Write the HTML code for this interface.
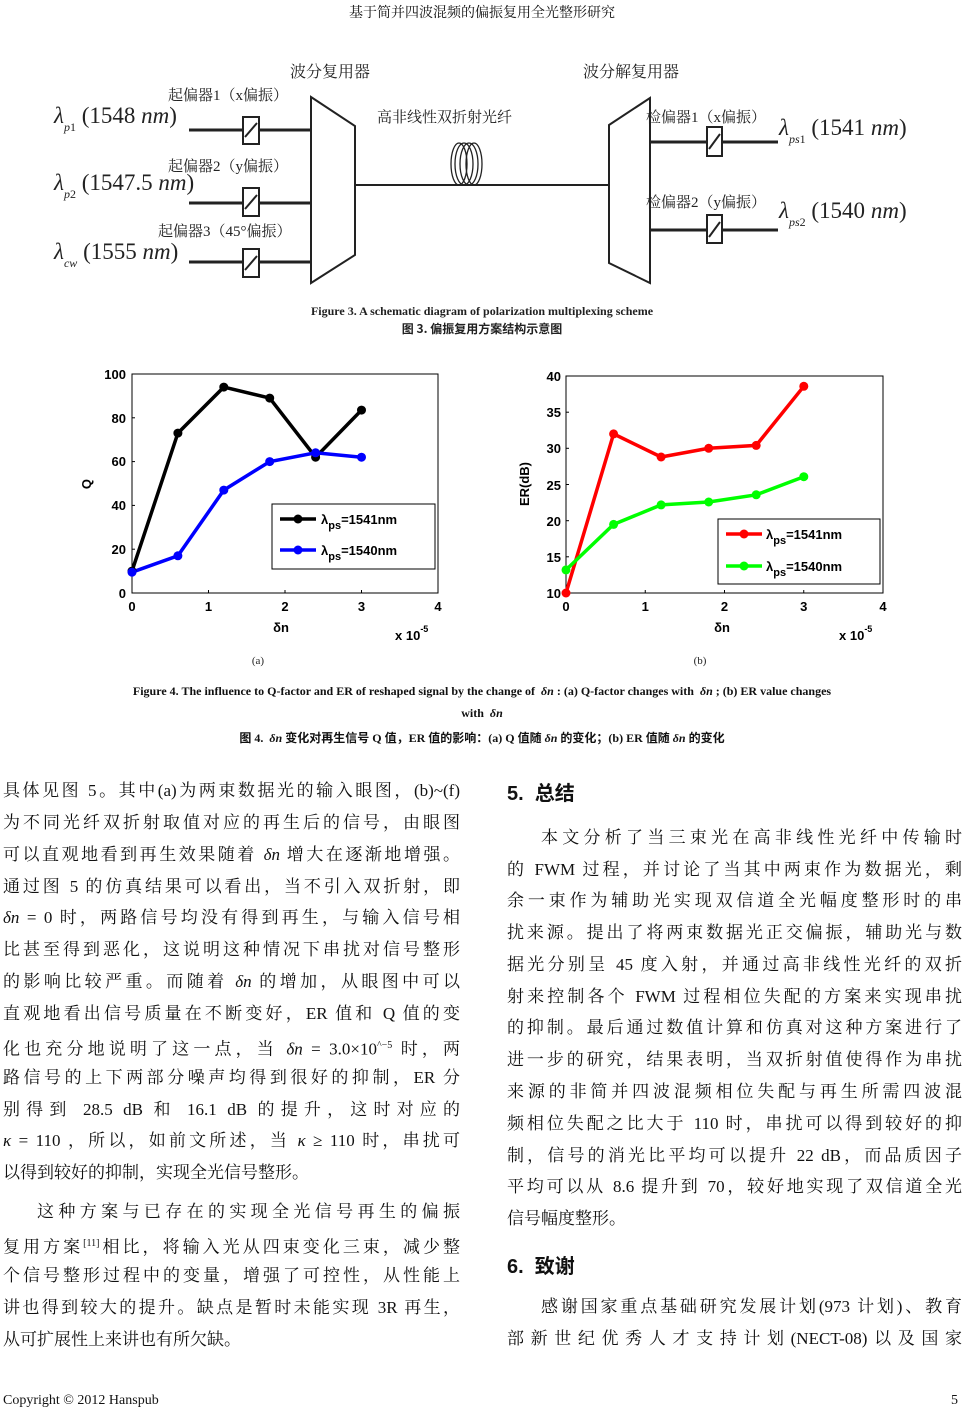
<!DOCTYPE html>
<html><head><meta charset="utf-8">
<style>
body{margin:0;background:#fff;}
#pg{position:relative;width:964px;height:1414px;overflow:hidden;background:#fff;font-family:"Liberation Serif","Noto Serif CJK SC",serif;color:#111;}
.l{position:absolute;font-size:17px;line-height:24px;height:24px;white-space:nowrap;text-align:justify;text-align-last:justify;}
.L{left:3px;width:457px;}
.R{left:507px;width:455px;}
.c{position:absolute;left:0;width:964px;text-align:center;white-space:nowrap;}
i{font-style:italic;}
.h{position:absolute;font-family:"Liberation Sans","Noto Sans CJK SC",sans-serif;font-weight:bold;font-size:20px;}
</style></head><body><div id="pg">
<div class="c" style="top:2px;font-size:14px;">基于简并四波混频的偏振复用全光整形研究</div>

<svg style="position:absolute;left:0;top:0" width="964" height="680" xmlns="http://www.w3.org/2000/svg">
<g stroke="#222" fill="none" stroke-width="2">
<polygon points="311,97 355,126 355,255 311,283" fill="#fff"/>
<polygon points="609,125 650,98 650,283 609,263" fill="#fff"/>
<line x1="189" y1="130" x2="311" y2="130" stroke-width="3"/>
<line x1="189" y1="203" x2="311" y2="203" stroke-width="3"/>
<line x1="189" y1="262" x2="311" y2="262" stroke-width="3"/>
<line x1="355" y1="185" x2="609" y2="185"/>
<line x1="650" y1="142" x2="778" y2="142" stroke-width="3"/>
<line x1="650" y1="230" x2="778" y2="230" stroke-width="3"/>
<rect x="243" y="117" width="16" height="27" fill="#fff"/><line x1="245" y1="137" x2="257" y2="123"/>
<rect x="243" y="188" width="16" height="28" fill="#fff"/><line x1="245" y1="209" x2="257" y2="195"/>
<rect x="243" y="249" width="16" height="28" fill="#fff"/><line x1="245" y1="270" x2="257" y2="256"/>
<rect x="707" y="127" width="15" height="29" fill="#fff"/><line x1="709" y1="149" x2="720" y2="134"/>
<rect x="707" y="215" width="15" height="28" fill="#fff"/><line x1="709" y1="237" x2="720" y2="222"/>
<g stroke-width="1.3"><ellipse cx="459" cy="164" rx="8" ry="21"/><ellipse cx="464" cy="164" rx="9" ry="21"/><ellipse cx="469" cy="164" rx="9" ry="21"/><ellipse cx="474" cy="164" rx="8" ry="21"/></g>
</g>
<g font-family="Liberation Serif,'Noto Serif CJK SC',serif" fill="#222">
<text x="290" y="77" font-size="16">波分复用器</text>
<text x="583" y="77" font-size="16">波分解复用器</text>
<text x="168" y="100" font-size="15">起偏器1（x偏振）</text>
<text x="168" y="171" font-size="15">起偏器2（y偏振）</text>
<text x="158" y="236" font-size="15">起偏器3（45°偏振）</text>
<text x="377" y="122" font-size="15">高非线性双折射光纤</text>
<text x="646" y="122" font-size="15">检偏器1（x偏振）</text>
<text x="646" y="207" font-size="15">检偏器2（y偏振）</text>
<g font-size="23"><text x="54" y="123"><tspan font-style="italic">λ</tspan><tspan font-size="12" dy="8" font-style="italic">p</tspan><tspan font-size="12">1</tspan><tspan dy="-8"> (1548 </tspan><tspan font-style="italic">nm</tspan>)</text>
<text x="54" y="190"><tspan font-style="italic">λ</tspan><tspan font-size="12" dy="8" font-style="italic">p</tspan><tspan font-size="12">2</tspan><tspan dy="-8"> (1547.5 </tspan><tspan font-style="italic">nm</tspan>)</text>
<text x="54" y="259"><tspan font-style="italic">λ</tspan><tspan font-size="12" dy="8" font-style="italic">cw</tspan><tspan dy="-8"> (1555 </tspan><tspan font-style="italic">nm</tspan>)</text>
<text x="779" y="135"><tspan font-style="italic">λ</tspan><tspan font-size="12" dy="8" font-style="italic">ps</tspan><tspan font-size="12">1</tspan><tspan dy="-8"> (1541 </tspan><tspan font-style="italic">nm</tspan>)</text>
<text x="779" y="218"><tspan font-style="italic">λ</tspan><tspan font-size="12" dy="8" font-style="italic">ps</tspan><tspan font-size="12">2</tspan><tspan dy="-8"> (1540 </tspan><tspan font-style="italic">nm</tspan>)</text></g>
<text x="482" y="315" font-size="12" font-weight="bold" text-anchor="middle">Figure 3. A schematic diagram of polarization multiplexing scheme</text>
<text x="482" y="333" font-size="12" font-weight="bold" text-anchor="middle" font-family="'Noto Sans CJK SC',sans-serif">图 3. 偏振复用方案结构示意图</text>
</g>

<!-- Chart a -->
<g font-family="Liberation Sans,Arial,sans-serif" font-weight="bold" font-size="13" fill="#000">
<rect x="132" y="374" width="306" height="219" fill="none" stroke="#000" stroke-width="1"/>
<g stroke="#000"><line x1="132" y1="549.2" x2="135" y2="549.2"/><line x1="132" y1="505.4" x2="135" y2="505.4"/><line x1="132" y1="461.6" x2="135" y2="461.6"/><line x1="132" y1="417.8" x2="135" y2="417.8"/><line x1="208.5" y1="593" x2="208.5" y2="590"/><line x1="285" y1="593" x2="285" y2="590"/><line x1="361.5" y1="593" x2="361.5" y2="590"/></g>
<g text-anchor="end"><text x="126" y="598">0</text><text x="126" y="554">20</text><text x="126" y="510">40</text><text x="126" y="466">60</text><text x="126" y="423">80</text><text x="126" y="379">100</text></g>
<g text-anchor="middle"><text x="132" y="611">0</text><text x="208.5" y="611">1</text><text x="285" y="611">2</text><text x="361.5" y="611">3</text><text x="438" y="611">4</text>
<text x="281" y="632">δn</text><text x="91" y="484" transform="rotate(-90 91 484)">Q</text></g>
<text x="395" y="640">x 10<tspan font-size="9" dy="-8">-5</tspan></text>
<polyline points="132,571.1 177.9,433.1 223.8,387.1 269.7,398.1 315.6,457.2 361.5,410.1" fill="none" stroke="#000" stroke-width="3.5"/>
<polyline points="132,572.2 177.9,555.8 223.8,490.1 269.7,461.6 315.6,452.8 361.5,457.2" fill="none" stroke="#00f" stroke-width="3.5"/>
<g fill="#000"><circle cx="132" cy="571.1" r="4.5"/><circle cx="177.9" cy="433.1" r="4.5"/><circle cx="223.8" cy="387.1" r="4.5"/><circle cx="269.7" cy="398.1" r="4.5"/><circle cx="315.6" cy="457.2" r="4.5"/><circle cx="361.5" cy="410.1" r="4.5"/></g>
<g fill="#00f"><circle cx="132" cy="572.2" r="4.5"/><circle cx="177.9" cy="555.8" r="4.5"/><circle cx="223.8" cy="490.1" r="4.5"/><circle cx="269.7" cy="461.6" r="4.5"/><circle cx="315.6" cy="452.8" r="4.5"/><circle cx="361.5" cy="457.2" r="4.5"/></g>
<rect x="272" y="504" width="163" height="65" fill="#fff" stroke="#000"/>
<line x1="280" y1="519" x2="316" y2="519" stroke="#000" stroke-width="3.5"/><circle cx="298" cy="519" r="4.5"/>
<line x1="280" y1="550" x2="316" y2="550" stroke="#00f" stroke-width="3.5"/><circle cx="298" cy="550" r="4.5" fill="#00f"/>
<text x="321" y="524">λ<tspan font-size="11" dy="5">ps</tspan><tspan dy="-5">=1541nm</tspan></text>
<text x="321" y="555">λ<tspan font-size="11" dy="5">ps</tspan><tspan dy="-5">=1540nm</tspan></text>
</g>

<!-- Chart b -->
<g font-family="Liberation Sans,Arial,sans-serif" font-weight="bold" font-size="13" fill="#000">
<rect x="566" y="376" width="317" height="217" fill="none" stroke="#000" stroke-width="1"/>
<g stroke="#000"><line x1="566" y1="556.8" x2="569" y2="556.8"/><line x1="566" y1="520.7" x2="569" y2="520.7"/><line x1="566" y1="484.5" x2="569" y2="484.5"/><line x1="566" y1="448.3" x2="569" y2="448.3"/><line x1="566" y1="412.2" x2="569" y2="412.2"/><line x1="645.25" y1="593" x2="645.25" y2="590"/><line x1="724.5" y1="593" x2="724.5" y2="590"/><line x1="803.75" y1="593" x2="803.75" y2="590"/></g>
<g text-anchor="end"><text x="561" y="598">10</text><text x="561" y="562">15</text><text x="561" y="526">20</text><text x="561" y="490">25</text><text x="561" y="453">30</text><text x="561" y="417">35</text><text x="561" y="381">40</text></g>
<g text-anchor="middle"><text x="566" y="611">0</text><text x="645.25" y="611">1</text><text x="724.5" y="611">2</text><text x="803.75" y="611">3</text><text x="883" y="611">4</text>
<text x="722" y="632">δn</text><text x="529" y="484" transform="rotate(-90 529 484)">ER(dB)</text></g>
<text x="839" y="640">x 10<tspan font-size="9" dy="-8">-5</tspan></text>
<polyline points="566,593 613.6,433.9 661.1,457 708.7,448.3 756.2,445.4 803.8,386.3" fill="none" stroke="#f00" stroke-width="3.5"/>
<polyline points="566,569.9 613.6,524.4 661.1,504.9 708.7,502 756.2,494.8 803.8,476.7" fill="none" stroke="#0f0" stroke-width="3.5"/>
<g fill="#f00"><circle cx="566" cy="593" r="4.5"/><circle cx="613.6" cy="433.9" r="4.5"/><circle cx="661.1" cy="457" r="4.5"/><circle cx="708.7" cy="448.3" r="4.5"/><circle cx="756.2" cy="445.4" r="4.5"/><circle cx="803.8" cy="386.3" r="4.5"/></g>
<g fill="#0f0"><circle cx="566" cy="569.9" r="4.5"/><circle cx="613.6" cy="524.4" r="4.5"/><circle cx="661.1" cy="504.9" r="4.5"/><circle cx="708.7" cy="502" r="4.5"/><circle cx="756.2" cy="494.8" r="4.5"/><circle cx="803.8" cy="476.7" r="4.5"/></g>
<rect x="718" y="519" width="162" height="65" fill="#fff" stroke="#000"/>
<line x1="726" y1="534" x2="762" y2="534" stroke="#f00" stroke-width="3.5"/><circle cx="744" cy="534" r="4.5" fill="#f00"/>
<line x1="726" y1="566" x2="762" y2="566" stroke="#0f0" stroke-width="3.5"/><circle cx="744" cy="566" r="4.5" fill="#0f0"/>
<text x="766" y="539">λ<tspan font-size="11" dy="5">ps</tspan><tspan dy="-5">=1541nm</tspan></text>
<text x="766" y="571">λ<tspan font-size="11" dy="5">ps</tspan><tspan dy="-5">=1540nm</tspan></text>
</g>
<g font-family="Liberation Serif,serif" font-size="11" fill="#222" text-anchor="middle"><text x="258" y="664">(a)</text><text x="700" y="664">(b)</text></g>
</svg>

<div class="c" style="top:684px;font-size:12px;font-weight:bold;">Figure 4. The influence to Q-factor and ER of reshaped signal by the change of &nbsp;<i>δn</i> : (a) Q-factor changes with &nbsp;<i>δn</i> ; (b) ER value changes</div>
<div class="c" style="top:706px;font-size:12px;font-weight:bold;">with &nbsp;<i>δn</i></div>
<div class="c" style="top:729px;font-size:12px;font-weight:bold;font-family:'Liberation Serif','Noto Sans CJK SC',sans-serif;">图 4. &nbsp;<i>δn</i> 变化对再生信号 Q 值，ER 值的影响：(a) Q 值随 <i>δn</i> 的变化；(b) ER 值随 <i>δn</i> 的变化</div>

<div class="l L" style="top:779px">具体见图 5。其中(a)为两束数据光的输入眼图，(b)~(f)</div>
<div class="l L" style="top:811px">为不同光纤双折射取值对应的再生后的信号，由眼图</div>
<div class="l L" style="top:843px">可以直观地看到再生效果随着 <i>δn</i> 增大在逐渐地增强。</div>
<div class="l L" style="top:875px">通过图 5 的仿真结果可以看出，当不引入双折射，即</div>
<div class="l L" style="top:906px"><i>δn</i> = 0 时，两路信号均没有得到再生，与输入信号相</div>
<div class="l L" style="top:938px">比甚至得到恶化，这说明这种情况下串扰对信号整形</div>
<div class="l L" style="top:970px">的影响比较严重。而随着 <i>δn</i> 的增加，从眼图中可以</div>
<div class="l L" style="top:1002px">直观地看出信号质量在不断变好，ER 值和 Q 值的变</div>
<div class="l L" style="top:1034px">化也充分地说明了这一点，当 <i>δn</i> = 3.0×10<sup style="font-size:10px">^−5</sup> 时，两</div>
<div class="l L" style="top:1066px">路信号的上下两部分噪声均得到很好的抑制，ER 分</div>
<div class="l L" style="top:1098px">别得到 28.5 dB 和 16.1 dB 的提升，这时对应的</div>
<div class="l L" style="top:1129px"><i>κ</i> = 110 ，所以，如前文所述，当 <i>κ</i> ≥ 110 时，串扰可</div>
<div class="l L" style="top:1161px;text-align-last:left">以得到较好的抑制，实现全光信号整形。</div>
<div class="l L" style="top:1200px;left:37px;width:423px">这种方案与已存在的实现全光信号再生的偏振</div>
<div class="l L" style="top:1232px">复用方案<sup style="font-size:10px">[11]</sup>相比，将输入光从四束变化三束，减少整</div>
<div class="l L" style="top:1264px">个信号整形过程中的变量，增强了可控性，从性能上</div>
<div class="l L" style="top:1296px">讲也得到较大的提升。缺点是暂时未能实现 3R 再生，</div>
<div class="l L" style="top:1328px;text-align-last:left">从可扩展性上来讲也有所欠缺。</div>

<div class="h" style="left:507px;top:777px">5.&nbsp; 总结</div>
<div class="l R" style="top:826px;left:541px;width:421px">本文分析了当三束光在高非线性光纤中传输时</div>
<div class="l R" style="top:858px">的 FWM 过程，并讨论了当其中两束作为数据光，剩</div>
<div class="l R" style="top:889px">余一束作为辅助光实现双信道全光幅度整形时的串</div>
<div class="l R" style="top:921px">扰来源。提出了将两束数据光正交偏振，辅助光与数</div>
<div class="l R" style="top:953px">据光分别呈 45 度入射，并通过高非线性光纤的双折</div>
<div class="l R" style="top:985px">射来控制各个 FWM 过程相位失配的方案来实现串扰</div>
<div class="l R" style="top:1016px">的抑制。最后通过数值计算和仿真对这种方案进行了</div>
<div class="l R" style="top:1048px">进一步的研究，结果表明，当双折射值使得作为串扰</div>
<div class="l R" style="top:1080px">来源的非简并四波混频相位失配与再生所需四波混</div>
<div class="l R" style="top:1112px">频相位失配之比大于 110 时，串扰可以得到较好的抑</div>
<div class="l R" style="top:1144px">制，信号的消光比平均可以提升 22 dB，而品质因子</div>
<div class="l R" style="top:1175px">平均可以从 8.6 提升到 70，较好地实现了双信道全光</div>
<div class="l R" style="top:1207px;text-align-last:left">信号幅度整形。</div>
<div class="h" style="left:507px;top:1250px">6.&nbsp; 致谢</div>
<div class="l R" style="top:1295px;left:541px;width:421px">感谢国家重点基础研究发展计划(973 计划)、教育</div>
<div class="l R" style="top:1327px">部新世纪优秀人才支持计划(NECT-08)以及国家</div>

<div style="position:absolute;left:3px;top:1393px;font-size:14px;">Copyright © 2012 Hanspub</div>
<div style="position:absolute;left:951px;top:1393px;font-size:14px;">5</div>
</div></body></html>
